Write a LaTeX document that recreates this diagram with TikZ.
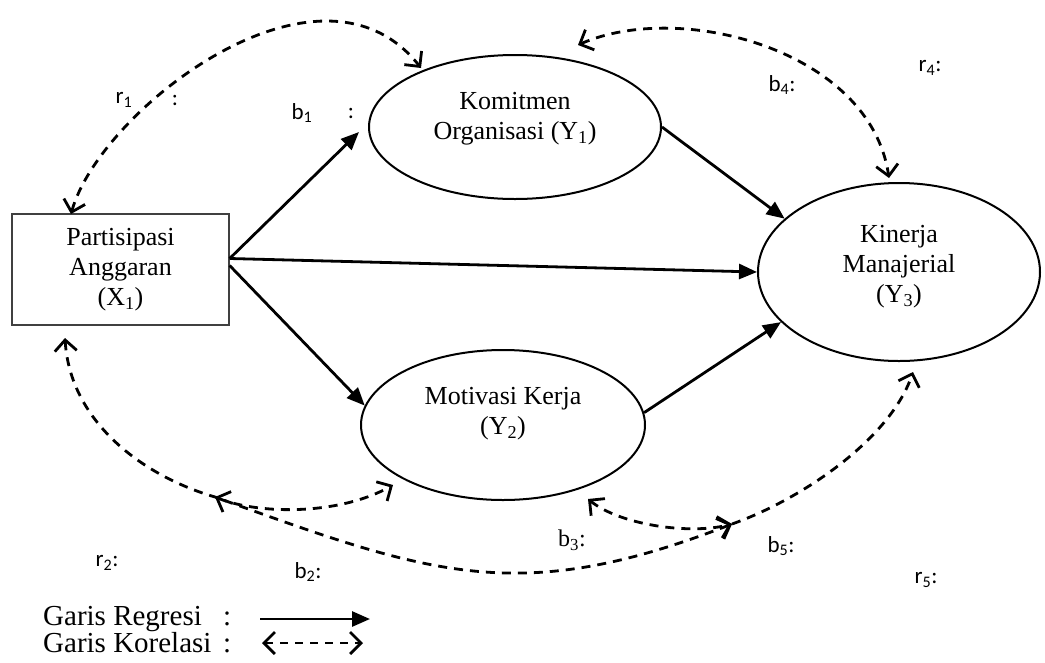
\documentclass[tikz,border=0pt]{standalone}
\usepackage{fontspec}
\setmainfont{Liberation Serif}
\newfontfamily\lblfont{Carlito}
\usetikzlibrary{arrows.meta,shapes.geometric}
\begin{document}
\begin{tikzpicture}[x=1pt,y=-1pt,
  ell/.style={ellipse,draw,line width=2pt,inner sep=0pt},
  ttext/.style={align=center,inner sep=0pt,font=\fontsize{26}{30}\selectfont},
  boxnode/.style={rectangle,draw=black!75,line width=1.3pt,align=center,inner sep=0pt,font=\fontsize{26}{30}\selectfont},
  reg/.style={line width=2.8pt,-{Triangle[length=18pt,width=15pt]}},
  tipb/.tip={Straight Barb[length=11pt,width=22pt,line width=2.8pt]},
  cor/.style={line width=2.8pt,dash pattern=on 9pt off 7pt,tipb-tipb},
  corend/.style={line width=2.8pt,dash pattern=on 9pt off 7pt,-tipb},
  lbl/.style={inner sep=0pt,font=\lblfont\fontsize{23}{26}\selectfont},
  lbls/.style={inner sep=0pt,font=\fontsize{24}{26}\selectfont},
  leg/.style={inner sep=0pt,anchor=base west,font=\fontsize{29}{30}\selectfont}]
\useasboundingbox (0,0) rectangle (1045,662);

% nodes
\node[boxnode,minimum width=217pt,minimum height=111pt] (X1) at (120.5,269.5)
  {Partisipasi\\Anggaran\\(X\textsubscript{1})};
\node[ell,minimum width=292pt,minimum height=144pt] (Y1) at (515,127) {};
\node[ttext] (Y1t) at (515,119) {Komitmen\\Organisasi (Y\textsubscript{1})};
\node[ell,minimum width=284pt,minimum height=150pt] (Y2) at (503,425) {};
\node[ttext] (Y2t) at (503,414) {Motivasi Kerja\\(Y\textsubscript{2})};
\node[ell,minimum width=282pt,minimum height=178pt] (Y3) at (899,272) {};
\node[ttext] (Y3t) at (899,267) {Kinerja\\Manajerial\\(Y\textsubscript{3})};

% regression arrows
\draw[reg] ([yshift=11pt]X1.east) -- ([xshift=-9pt,yshift=-5pt]Y1.west);
\draw[reg] ([yshift=11pt]X1.east) -- (Y3.west);
\draw[reg] ([yshift=4pt]X1.east) -- (Y2.172);
\draw[reg] (Y1.east) -- (Y3.155);
\draw[reg] (Y2.5) -- (Y3.203);

% correlation end points
\coordinate (c1a) at (71,214);
\coordinate (c1b) at (421,68);
\coordinate (c4a) at (578,45);
\coordinate (c4b) at (889,178);
\coordinate (c2a) at (65,338);
\coordinate (m1) at (215,497);
\coordinate (m2) at (732,524);
\coordinate (c3b) at (393,485);
\coordinate (c5a) at (588,499);
\coordinate (c6b) at (913,372);

% correlation curves
\draw[cor] (c1a) .. controls (100,110) and (320,-60) .. (c1b);
\draw[cor] (c4a) .. controls (680,0) and (870,50) .. (c4b);
\draw[cor] (c2a) .. controls (70,420) and (140,475) .. (m1)
               .. controls (431,575) and (518,607) .. (m2);
\draw[cor] (m1) .. controls (260,515) and (340,515) .. (c3b);
\draw[cor] (c5a) .. controls (620,525) and (690,535) .. (m2);
\draw[corend] (m2) .. controls (800,500) and (890,440) .. (c6b);

% labels
\node[lbl] (r1) at (124,100) {r\textsubscript{1}};
\node[lbl] (r1c) at (175,100) {:};
\node[lbl] (b1) at (302,113) {b\textsubscript{1}};
\node[lbl] (b1c) at (351,113) {:};
\node[lbl] (b4) at (782,85) {b\textsubscript{4}:};
\node[lbl] (r4) at (930,68) {r\textsubscript{4}:};
\node[lbl] (r2) at (107,563) {r\textsubscript{2}:};
\node[lbl] (b2) at (308,572) {b\textsubscript{2}:};
\node[lbls] (b3) at (572,540) {b\textsubscript{3}:};
\node[lbl] (b5) at (781,546) {b\textsubscript{5}:};
\node[lbl] (r5) at (926,580) {r\textsubscript{5}:};

% legend
\node[leg] (lg1) at (43,625) {Garis Regresi};
\node[leg] (lg1c) at (223,625) {:};
\node[leg] (lg2) at (43,652) {Garis Korelasi};
\node[leg] (lg2c) at (223,652) {:};
\coordinate (la) at (260,619);
\coordinate (lb) at (370,619);
\coordinate (lc) at (262,643);
\coordinate (ld) at (363,643);
\draw[reg] (la) -- (lb);
\draw[line width=2.6pt,dash pattern=on 8pt off 7pt,tipb-tipb] (lc) -- (ld);
\end{tikzpicture}
\end{document}
